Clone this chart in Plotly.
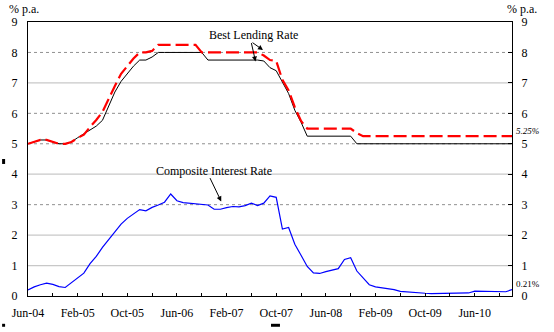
import plotly.graph_objects as go
import pandas as pd

# Monthly observations, Jun-04 .. Dec-10
months = pd.date_range("2004-06-01", "2010-12-01", freq="MS").strftime("%b-%y").tolist()

blr_low = [5.0, 5.06, 5.125, 5.125, 5.06, 5.0, 5.0, 5.06, 5.2, 5.33, 5.46, 5.58,
           5.77, 6.25, 6.7, 7.05, 7.3, 7.55, 7.75, 7.75, 7.85, 8.0, 8.0, 8.0,
           8.0, 8.0, 8.0, 8.0, 8.0, 7.75, 7.75, 7.75, 7.75, 7.75, 7.75, 7.75,
           7.75, 7.75, 7.72, 7.5, 7.4, 7.0, 6.65, 6.1, 5.71, 5.25, 5.25, 5.25,
           5.25, 5.25, 5.25, 5.25, 5.25, 5.0, 5.0, 5.0, 5.0, 5.0, 5.0, 5.0,
           5.0, 5.0, 5.0, 5.0, 5.0, 5.0, 5.0, 5.0, 5.0, 5.0, 5.0, 5.0,
           5.0, 5.0, 5.0, 5.0, 5.0, 5.0, 5.0]

blr_high = [5.0, 5.06, 5.125, 5.125, 5.06, 5.0, 5.0, 5.06, 5.19, 5.3, 5.55, 5.78,
            6.05, 6.5, 6.9, 7.3, 7.55, 7.8, 8.0, 8.0, 8.05, 8.25, 8.25, 8.25,
            8.25, 8.25, 8.25, 8.25, 8.0, 8.0, 8.0, 8.0, 8.0, 8.0, 8.0, 8.0,
            8.0, 8.0, 7.9, 7.75, 7.72, 7.1, 6.75, 6.2, 5.75, 5.5, 5.5, 5.5,
            5.5, 5.5, 5.5, 5.5, 5.5, 5.35, 5.25, 5.25, 5.25, 5.25, 5.25, 5.25,
            5.25, 5.25, 5.25, 5.25, 5.25, 5.25, 5.25, 5.25, 5.25, 5.25, 5.25, 5.25,
            5.25, 5.25, 5.25, 5.25, 5.25, 5.25, 5.25]

composite = [0.20, 0.30, 0.37, 0.42, 0.38, 0.31, 0.28, 0.43, 0.57, 0.75, 1.06, 1.30,
             1.60, 1.85, 2.11, 2.36, 2.55, 2.71, 2.84, 2.80, 2.91, 2.99, 3.08, 3.35,
             3.13, 3.07, 3.05, 3.04, 3.03, 2.99, 2.85, 2.85, 2.90, 2.94, 2.93, 2.97,
             3.05, 2.97, 3.05, 3.29, 3.24, 2.20, 2.25, 1.70, 1.34, 0.97, 0.76, 0.74,
             0.80, 0.85, 0.90, 1.20, 1.26, 0.82, 0.58, 0.37, 0.30, 0.27, 0.25, 0.21,
             0.15, 0.13, 0.11, 0.10, 0.09, 0.08, 0.08, 0.08, 0.08, 0.08, 0.08, 0.10,
             0.16, 0.16, 0.16, 0.14, 0.14, 0.14, 0.21]

tick_labels = ["Jun-04", "Feb-05", "Oct-05", "Jun-06", "Feb-07", "Oct-07",
               "Jun-08", "Feb-09", "Oct-09", "Jun-10"]
y_ticks = [0, 1, 2, 3, 4, 5, 6, 7, 8, 9]
dotted_grid = [3, 5, 6, 8]
solid_grid = [1, 2, 4, 7]

x = list(range(len(months)))
FONT = "Liberation Serif, Times New Roman, serif"

fig = go.Figure()
fig.add_trace(go.Scatter(x=x, y=blr_low, mode="lines", line=dict(color="black", width=1),
                         hovertext=months, showlegend=False))
fig.add_trace(go.Scatter(x=x, y=blr_high, mode="lines",
                         line=dict(color="#FF0000", width=2.2, dash="13px,5px"),
                         hovertext=months, showlegend=False))
fig.add_trace(go.Scatter(x=x, y=composite, mode="lines", line=dict(color="#0000FF", width=1.2),
                         hovertext=months, showlegend=False))
fig.add_trace(go.Scatter(x=[0], y=[0], yaxis="y2", mode="markers",
                         marker=dict(opacity=0), showlegend=False, hoverinfo="skip"))

shapes = []
for g in dotted_grid:
    shapes.append(dict(type="line", xref="x domain", yref="y", x0=0, x1=1, y0=g, y1=g,
                       line=dict(color="#909090", width=1, dash="dot"), layer="below"))
for g in solid_grid:
    shapes.append(dict(type="line", xref="x domain", yref="y", x0=0, x1=1, y0=g, y1=g,
                       line=dict(color="#C8C8C8", width=1.3), layer="below"))

# small black marks at the picture edges
def px2paper_x(px):
    return (px - 26) / 486.0
def px2paper_y(py):
    return (298 - py) / 276.0
for (a, b, c, d) in [(0, 160, 3, 165), (0, 326, 3, 329), (270, 326, 279, 329)]:
    shapes.append(dict(type="rect", xref="paper", yref="paper",
                       x0=px2paper_x(a), x1=px2paper_x(c), y0=px2paper_y(b), y1=px2paper_y(d),
                       fillcolor="black", line=dict(width=0)))

def label(px, py, text, size):
    return dict(xref="paper", yref="paper", x=px2paper_x(px), y=px2paper_y(py), text=text,
                xanchor="center", yanchor="middle", showarrow=False,
                font=dict(family=FONT, size=size, color="black"))

annotations = [
    label(22, 9, "% p.a.", 12),
    label(522, 9, "% p.a.", 12),
    label(528, 132, "<i>5.25%</i>", 9),
    label(528, 286, "0.21%", 9),
    dict(xref="x", yref="y", x=36.4, y=(298.3 - 35) / 30.67, text="Best Lending Rate",
         xanchor="center", yanchor="middle",
         showarrow=False, font=dict(family=FONT, size=12, color="black")),
    dict(xref="x", yref="y", x=29.9, y=(298.3 - 172) / 30.67, text="Composite Interest Rate",
         xanchor="center", yanchor="middle",
         showarrow=False, font=dict(family=FONT, size=12, color="black")),
]
arrows = [((250, 42), (262, 50.5)), ((250, 42), (254.5, 62)), ((208, 178), (220, 203))]
for (tx, ty), (hx, hy) in arrows:
    annotations.append(dict(xref="x", yref="y", axref="x", ayref="y",
                            x=(hx - 25.7) / 6.24, y=(298.3 - hy) / 30.67,
                            ax=(tx - 25.7) / 6.24, ay=(298.3 - ty) / 30.67,
                            text="", showarrow=True, arrowhead=2, arrowsize=1,
                            arrowwidth=1, arrowcolor="black"))

fig.update_layout(
    width=554, height=332,
    margin=dict(l=26, r=42, t=22, b=34),
    paper_bgcolor="white", plot_bgcolor="white",
    font=dict(family=FONT, size=12, color="black"),
    showlegend=False,
    shapes=shapes, annotations=annotations,
    xaxis=dict(range=[0, 78], tickvals=[0, 8, 16, 24, 32, 40, 48, 56, 64, 72],
               ticktext=tick_labels, ticks="inside", ticklen=3, tickcolor="black",
               minor=dict(ticks="inside", tick0=0, dtick=4, ticklen=3, tickcolor="black"),
               showline=True, linecolor="black", linewidth=1, mirror=True,
               showgrid=False, zeroline=False, ticklabelstandoff=6,
               tickfont=dict(family=FONT, size=12)),
    yaxis=dict(range=[0, 9], tickvals=y_ticks, showline=True, linecolor="black",
               linewidth=1, mirror=True, showgrid=False, zeroline=False, ticks="",
               ticklabelstandoff=7, tickfont=dict(family=FONT, size=12)),
    yaxis2=dict(range=[0, 9], tickvals=y_ticks, overlaying="y", side="right",
                showline=True, linecolor="black", linewidth=1, showgrid=False,
                zeroline=False, ticks="inside", ticklen=4, tickcolor="black",
                ticklabelstandoff=6, tickfont=dict(family=FONT, size=12)),
)

fig.write_html("out.html")
